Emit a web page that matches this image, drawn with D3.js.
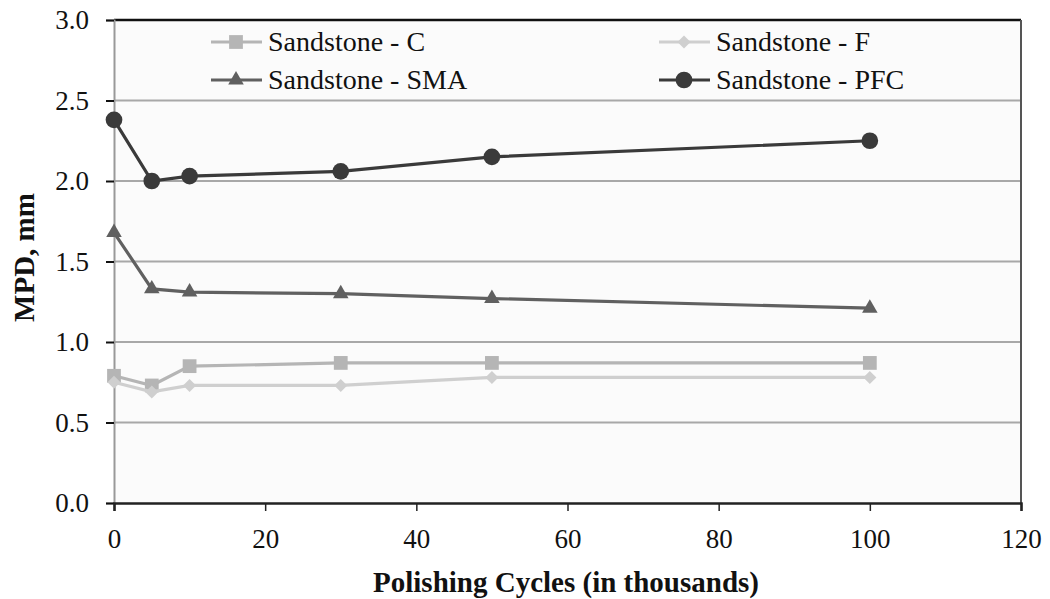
<!DOCTYPE html>
<html>
<head>
<meta charset="utf-8">
<script src="https://cdn.jsdelivr.net/npm/d3@7"></script>
<style>
  html, body { margin: 0; padding: 0; background: #ffffff; }
  svg text { font-family: "Liberation Serif", "Times New Roman", serif; fill: #111; }
</style>
</head>
<body>
<svg id="chart" width="1050" height="599"></svg>
<script>
// Polishing cycles (thousands) at which MPD was measured
const cycles = [0, 5, 10, 30, 50, 100];

// Mean profile depth (mm) per mix
const sandstoneC   = [0.79, 0.73, 0.85, 0.87, 0.87, 0.87];
const sandstoneF   = [0.75, 0.69, 0.73, 0.73, 0.78, 0.78];
const sandstoneSMA = [1.68, 1.33, 1.31, 1.30, 1.27, 1.21];
const sandstonePFC = [2.38, 2.00, 2.03, 2.06, 2.15, 2.25];

const seriesNames = ["Sandstone - C", "Sandstone - F", "Sandstone - SMA", "Sandstone - PFC"];

const xTicks = [0, 20, 40, 60, 80, 100, 120];
const yTicks = [0.0, 0.5, 1.0, 1.5, 2.0, 2.5, 3.0];

const series = [
  { name: seriesNames[0], values: sandstoneC,   color: "#b5b5b5", marker: "square" },
  { name: seriesNames[1], values: sandstoneF,   color: "#cfcfcf", marker: "diamond" },
  { name: seriesNames[2], values: sandstoneSMA, color: "#606060", marker: "triangle" },
  { name: seriesNames[3], values: sandstonePFC, color: "#3a3a3a", marker: "circle" }
];

const svg = d3.select("#chart");
const plotL = 114, plotR = 1021, plotT = 20, plotB = 503;

const x = d3.scaleLinear().domain([0, 120]).range([plotL, plotR]);
const y = d3.scaleLinear().domain([0, 3]).range([plotB, plotT]);

// plot background
svg.append("rect")
  .attr("x", plotL).attr("y", plotT)
  .attr("width", plotR - plotL).attr("height", plotB - plotT)
  .attr("fill", "#fbfbfb");

// horizontal gridlines
svg.append("g")
  .selectAll("line")
  .data(yTicks.filter(d => d > 0 && d < 3))
  .join("line")
  .attr("x1", plotL).attr("x2", plotR)
  .attr("y1", d => y(d)).attr("y2", d => y(d))
  .attr("stroke", "#a8a8a8").attr("stroke-width", 2);

// frame: top and right edges
svg.append("line").attr("x1", plotL).attr("x2", plotR).attr("y1", plotT).attr("y2", plotT)
  .attr("stroke", "#111").attr("stroke-width", 2.5);
svg.append("line").attr("x1", plotR).attr("x2", plotR).attr("y1", plotT).attr("y2", plotB)
  .attr("stroke", "#555").attr("stroke-width", 2);

// y axis
const yAxis = svg.append("g")
  .attr("transform", `translate(${plotL},0)`)
  .call(d3.axisLeft(y).tickValues(yTicks).tickFormat(d3.format(".1f")).tickSize(8).tickPadding(17));
yAxis.select(".domain").attr("stroke", "#999").attr("stroke-width", 2);
yAxis.selectAll(".tick line").attr("stroke", "#111").attr("stroke-width", 2);
yAxis.selectAll(".tick text").attr("font-size", 27).attr("font-family", "Liberation Serif").attr("fill", "#111");

// x axis
const xAxis = svg.append("g")
  .attr("transform", `translate(0,${plotB})`)
  .call(d3.axisBottom(x).tickValues(xTicks).tickFormat(d3.format("d")).tickSize(8).tickPadding(18));
xAxis.select(".domain").attr("stroke", "#222").attr("stroke-width", 2.5);
xAxis.selectAll(".tick line").attr("stroke", "#222").attr("stroke-width", 1.5);
xAxis.selectAll(".tick text").attr("font-size", 27).attr("font-family", "Liberation Serif").attr("fill", "#111");

// axis titles
svg.append("text")
  .attr("x", 566).attr("y", 592)
  .attr("text-anchor", "middle")
  .attr("font-size", 29).attr("font-weight", "bold")
  .text("Polishing Cycles (in thousands)");

svg.append("text")
  .attr("transform", `translate(34,${(plotT + plotB) / 2 - 4}) rotate(-90)`)
  .attr("text-anchor", "middle")
  .attr("font-size", 29).attr("font-weight", "bold")
  .text("MPD, mm");

// marker drawing
const symbolFor = {
  square: d3.symbolSquare,
  diamond: d3.symbolSquare,
  triangle: d3.symbolTriangle,
  circle: d3.symbolCircle
};
const sizeFor = { square: 190, diamond: 85, triangle: 105, circle: 220 };
const rotFor = { square: 0, diamond: 45, triangle: 0, circle: 0 };

function drawMarker(g, s, px, py) {
  g.append("path")
    .attr("transform", `translate(${px},${py}) rotate(${rotFor[s.marker]})`)
    .attr("d", d3.symbol().type(symbolFor[s.marker]).size(sizeFor[s.marker])())
    .attr("fill", s.color);
}

const line = d3.line().x(d => x(d[0])).y(d => y(d[1]));

series.forEach(s => {
  const pts = cycles.map((c, i) => [c, s.values[i]]);
  const g = svg.append("g");
  g.append("path")
    .datum(pts)
    .attr("d", line)
    .attr("fill", "none")
    .attr("stroke", s.color)
    .attr("stroke-width", 3.2);
  pts.forEach(p => drawMarker(g, s, x(p[0]), y(p[1])));
});

// legend
const legendPos = [
  { lx: 211, ly: 42 }, { lx: 659, ly: 42 },
  { lx: 211, ly: 80 }, { lx: 659, ly: 80 }
];
series.forEach((s, i) => {
  const { lx, ly } = legendPos[i];
  const g = svg.append("g");
  g.append("line")
    .attr("x1", lx).attr("x2", lx + 51)
    .attr("y1", ly).attr("y2", ly)
    .attr("stroke", s.color).attr("stroke-width", 3.2);
  drawMarker(g, s, lx + 25, ly);
  g.append("text")
    .attr("x", lx + 57).attr("y", ly + 9)
    .attr("font-size", 28)
    .attr("fill", "#222")
    .text(s.name);
});
</script>
</body>
</html>
